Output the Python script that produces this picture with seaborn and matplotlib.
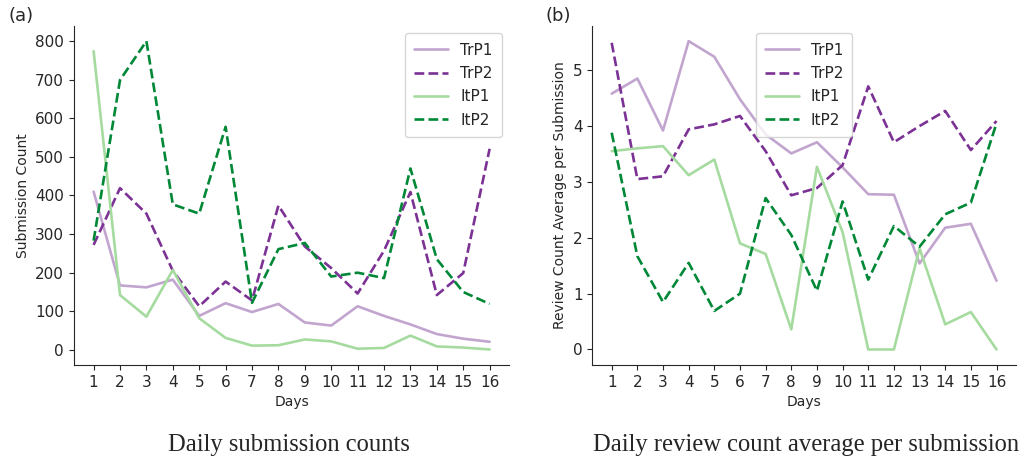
import numpy as np
import pandas as pd
import seaborn as sns
import matplotlib
matplotlib.use("Agg")
import matplotlib.pyplot as plt

sns.set_style("ticks")
plt.rcParams['font.family'] = ['DejaVu Sans']

days = list(range(1, 17))
series_names = ["TrP1", "TrP2", "ItP1", "ItP2"]

# (a) daily submission counts
sub_trp1 = [410, 167, 162, 182, 88, 121, 98, 119, 71, 63, 113, 88, 66, 41, 29, 21]
sub_trp2 = [272, 419, 353, 205, 113, 177, 128, 374, 268, 212, 146, 257, 409, 142, 199, 521]
sub_itp1 = [774, 142, 86, 207, 82, 31, 11, 12, 27, 22, 3, 5, 37, 9, 6, 1]
sub_itp2 = [283, 699, 800, 377, 353, 578, 122, 261, 277, 190, 200, 186, 470, 235, 150, 119]

# (b) daily review count average per submission
rev_trp1 = [4.58, 4.85, 3.92, 5.52, 5.24, 4.48, 3.85, 3.51, 3.71, 3.26, 2.78, 2.77, 1.54, 2.18, 2.25, 1.23]
rev_trp2 = [5.49, 3.05, 3.10, 3.94, 4.03, 4.18, 3.55, 2.76, 2.89, 3.30, 4.71, 3.71, 4.00, 4.27, 3.57, 4.09]
rev_itp1 = [3.55, 3.60, 3.64, 3.12, 3.40, 1.90, 1.71, 0.36, 3.27, 2.10, 0.0, 0.0, 1.81, 0.45, 0.67, 0.0]
rev_itp2 = [3.88, 1.67, 0.85, 1.55, 0.69, 1.00, 2.71, 2.05, 1.05, 2.65, 1.25, 2.21, 1.84, 2.42, 2.63, 4.05]

colors = {"TrP1": "#c2a5cf", "TrP2": "#7b3294", "ItP1": "#a6dba0", "ItP2": "#008837"}
styles = {"TrP1": "-", "TrP2": "--", "ItP1": "-", "ItP2": "--"}

sub_df = pd.DataFrame({"TrP1": sub_trp1, "TrP2": sub_trp2, "ItP1": sub_itp1, "ItP2": sub_itp2}, index=days)
rev_df = pd.DataFrame({"TrP1": rev_trp1, "TrP2": rev_trp2, "ItP1": rev_itp1, "ItP2": rev_itp2}, index=days)

fig = plt.figure(figsize=(10.25, 4.59), dpi=100)
ax1 = fig.add_axes([0.072, 0.205, 0.425, 0.739])
ax2 = fig.add_axes([0.578, 0.205, 0.413, 0.739])


def draw(ax, df, ylabel, legend_loc):
    for name in series_names:
        sns.lineplot(x=df.index, y=df[name], ax=ax, color=colors[name],
                     linestyle=styles[name], linewidth=1.9, label=name)
    ax.set_xticks(days)
    ax.set_xlabel("Days", fontsize=10)
    ax.set_ylabel(ylabel, fontsize=10)
    ax.tick_params(labelsize=11)
    sns.despine(ax=ax)
    ax.legend(loc=legend_loc, fontsize=11, handlelength=2.2, handletextpad=0.8,
              borderpad=0.6, labelspacing=0.55)


draw(ax1, sub_df, "Submission Count", "upper right")
draw(ax2, rev_df, "Review Count Average per Submission", "upper center")

fig.text(0.008, 0.955, "(a)", fontsize=13)
fig.text(0.532, 0.955, "(b)", fontsize=13)
fig.text(0.282, 0.031, "Daily submission counts", fontsize=17.7,
         family="Liberation Serif", ha="center", va="center")
fig.text(0.786, 0.031, "Daily review count average per submission", fontsize=17.7,
         family="Liberation Serif", ha="center", va="center")

fig.savefig("out.png", dpi=100)
